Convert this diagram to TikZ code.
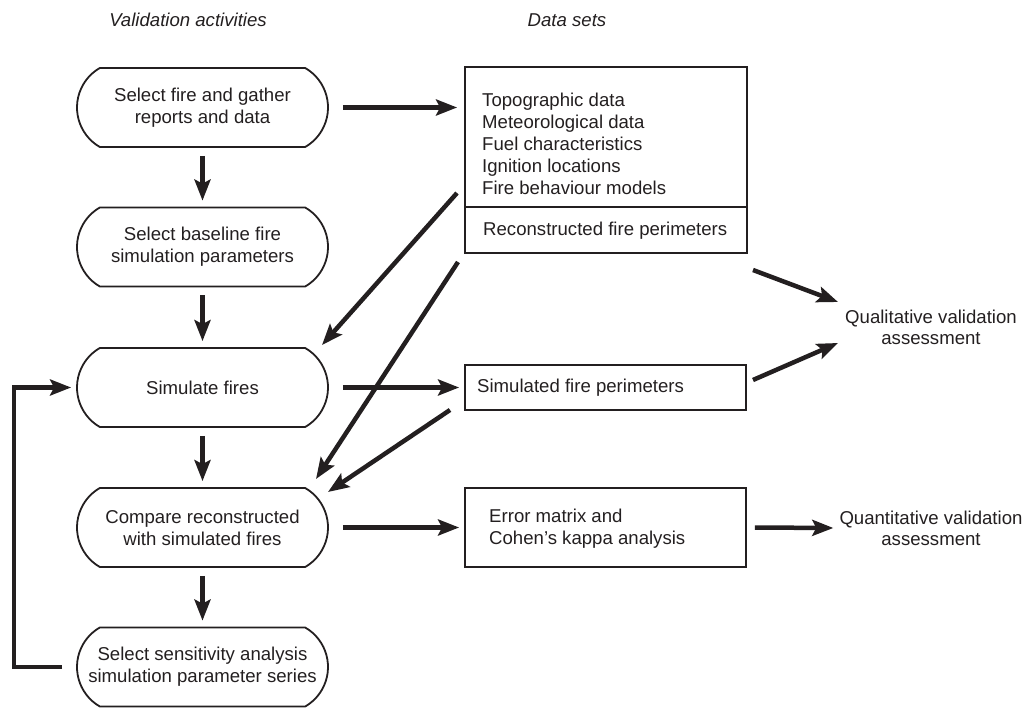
\documentclass[tikz,border=0pt]{standalone}
\usepackage{fontspec}
\setmainfont{Liberation Sans}
\usetikzlibrary{shapes.misc,arrows.meta,calc}
\definecolor{ink}{HTML}{231F20}
\begin{document}
\begin{tikzpicture}[x=1pt,y=-1pt,
  font=\fontsize{18.6}{22}\selectfont,
  act/.style={rounded rectangle, rounded rectangle arc length=120, draw=ink, line width=1.8pt,
    minimum width=251pt, minimum height=79pt, inner sep=0pt, align=center, text=ink},
  dbox/.style={rectangle, draw=ink, line width=1.8pt, inner sep=0pt},
  txt/.style={inner sep=0pt, text=ink},
  hdr/.style={txt, font=\fontsize{18.6}{22}\selectfont\itshape},
  flow/.style={draw=ink, line width=4.5pt, -{Stealth[length=21pt,width=16pt,inset=4pt]}},
]
\useasboundingbox (0,0) rectangle (1028,708);

% headers
\node[hdr] (h1) at (188,20) {Validation activities};
\node[hdr] (h2) at (567,20) {Data sets};

% activities
\node[act] (a1) at (202.5,107.5) {Select fire and gather\\reports and data};
\node[act] (a2) at (202.5,247) {Select baseline fire\\simulation parameters};
\node[act] (a3) at (202.5,387.5) {Simulate fires};
\node[act] (a4) at (202.5,527.5) {Compare reconstructed\\with simulated fires};
\node[act] (a5) at (202.5,667) {Select sensitivity analysis\\simulation parameter series};

% data sets
\node[dbox, minimum width=282pt, minimum height=140pt] (ds) at (606,137) {};
\node[txt, anchor=west, align=left] (dst) at (482,143.5)
  {Topographic data\\Meteorological data\\Fuel characteristics\\Ignition locations\\Fire behaviour models};
\node[dbox, minimum width=282pt, minimum height=46pt] (rp) at (606,230) {};
\node[txt, anchor=west] (rpt) at (483,231) {Reconstructed fire perimeters};

\node[dbox, minimum width=281pt, minimum height=45pt] (sp) at (605.5,387.5) {};
\node[txt, anchor=west] (spt) at (477,388) {Simulated fire perimeters};

\node[dbox, minimum width=281pt, minimum height=79pt] (em) at (605.5,527.5) {};
\node[txt, anchor=west, align=left] (emt) at (489,529) {Error matrix and\\Cohen’s kappa analysis};

% outcomes
\node[txt, align=center, font=\fontsize{18.6}{21}\selectfont] (ql) at (931,327.5) {Qualitative validation\\assessment};
\node[txt, align=center, font=\fontsize{18.6}{21}\selectfont] (qn) at (931,528) {Quantitative validation\\assessment};

% vertical flow
\draw[flow] ($(a1.south)+(0,8)$) -- ($(a2.north)+(0,-6)$);
\draw[flow] ($(a2.south)+(0,8)$) -- ($(a3.north)+(0,-6)$);
\draw[flow] ($(a3.south)+(0,8)$) -- ($(a4.north)+(0,-6)$);
\draw[flow] ($(a4.south)+(0,8)$) -- ($(a5.north)+(0,-6)$);

% feedback loop
\draw[flow] ($(a5.west)+(-14,0)$) -| ($(a3.west)+(-62,0)$) -- ($(a3.west)+(-5,0)$);

% horizontal flows
\draw[flow] ($(a1.east)+(14,0)$) -- ($(ds.west |- a1.east)+(-7,0)$);
\draw[flow] ($(a3.east)+(14,0)$) -- ($(sp.west)+(-5,0)$);
\draw[flow] ($(a4.east)+(14,0)$) -- ($(em.west)+(-5,0)$);
\draw[flow] ($(em.east)+(8,0)$) -- ($(qn.west)+(-6,0)$);

% diagonal flows
\coordinate (dA1) at (457,193);
\coordinate (dA2) at (322,345);
\coordinate (dB1) at (458,262);
\coordinate (dB2) at (316,479);
\coordinate (dC1) at (450,410);
\coordinate (dC2) at (328,492);
\coordinate (dD1) at (753,270);
\coordinate (dD2) at (838,302);
\coordinate (dE1) at (753,380);
\coordinate (dE2) at (838,343);
\draw[flow] (dA1) -- (dA2);
\draw[flow] (dB1) -- (dB2);
\draw[flow] (dC1) -- (dC2);
\draw[flow] (dD1) -- (dD2);
\draw[flow] (dE1) -- (dE2);
\end{tikzpicture}
\end{document}
